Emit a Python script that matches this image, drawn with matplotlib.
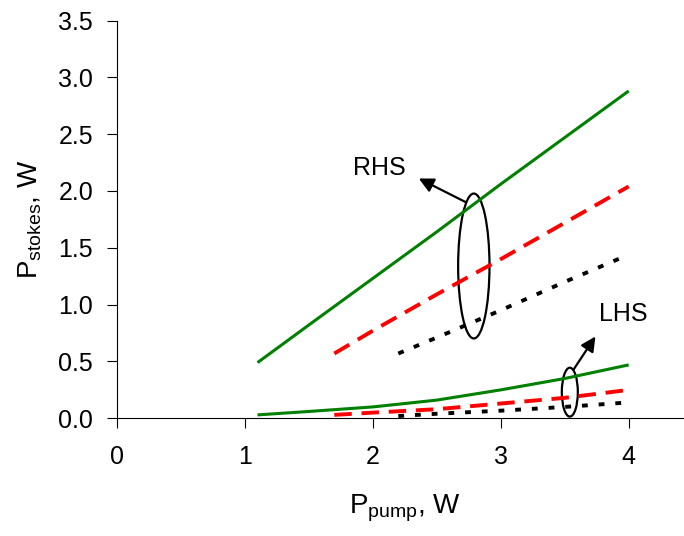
import matplotlib.pyplot as plt
from matplotlib.patches import Ellipse

plt.rcParams['font.family'] = ['Liberation Sans', 'DejaVu Sans']
plt.rcParams['mathtext.fontset'] = 'custom'
plt.rcParams['mathtext.rm'] = 'Liberation Sans'
plt.rcParams['mathtext.it'] = 'Liberation Sans'

# P_pump values (W) for each curve
x_green = [1.1, 1.5, 2.0, 2.5, 3.0, 3.5, 4.0]
x_red = [1.7, 2.0, 2.5, 3.0, 3.5, 4.0]
x_black = [2.2, 2.5, 3.0, 3.5, 4.0]

# RHS curves
rhs_green = [0.49, 0.82, 1.23, 1.64, 2.06, 2.47, 2.88]
rhs_red = [0.57, 0.77, 1.09, 1.40, 1.72, 2.04]
rhs_black = [0.57, 0.71, 0.95, 1.20, 1.44]

# LHS curves
lhs_green = [0.03, 0.06, 0.10, 0.16, 0.25, 0.35, 0.47]
lhs_red = [0.03, 0.05, 0.08, 0.13, 0.18, 0.25]
lhs_black = [0.02, 0.04, 0.067, 0.10, 0.14]

xticks = [0, 1, 2, 3, 4]
yticks = [0.0, 0.5, 1.0, 1.5, 2.0, 2.5, 3.0, 3.5]

fig = plt.figure(figsize=(6.84, 5.36), dpi=100)
ax = fig.add_axes([116.7 / 684, (536 - 418.3) / 536, 576 / 684, 397.8 / 536])

green = dict(color='#008000', lw=2.2, solid_capstyle='butt')
red = dict(color='#ff0000', lw=2.8, dashes=(4.5, 2.5))
black = dict(color='black', lw=2.8, dashes=(1.5, 2.8))

ax.plot(x_green, rhs_green, **green)
ax.plot(x_red, rhs_red, **red)
ax.plot(x_black, rhs_black, **black)
ax.plot(x_green, lhs_green, **green)
ax.plot(x_red, lhs_red, **red)
ax.plot(x_black, lhs_black, **black)

# annotation ellipses
ax.add_patch(Ellipse((2.79, 1.34), 0.245, 1.275, fill=False, lw=1.6, color='black'))
ax.add_patch(Ellipse((3.54, 0.23), 0.125, 0.43, fill=False, lw=1.6, color='black'))
ax.annotate('', xy=(2.36, 2.11), xytext=(2.73, 1.90),
            arrowprops=dict(arrowstyle='-|>', color='black', lw=1.6, mutation_scale=22,
                            shrinkA=0, shrinkB=0))
ax.annotate('', xy=(3.74, 0.72), xytext=(3.57, 0.43),
            arrowprops=dict(arrowstyle='-|>', color='black', lw=1.6, mutation_scale=22,
                            shrinkA=0, shrinkB=0))
ax.text(2.05, 2.20, 'RHS', fontsize=18, ha='center', va='center')
ax.text(3.96, 0.92, 'LHS', fontsize=18, ha='center', va='center')

ax.set_xlim(0, 4.5)
ax.set_ylim(0, 3.5)
ax.set_xticks(xticks)
ax.set_yticks(yticks)
ax.set_yticklabels(['%.1f' % v for v in yticks])
ax.spines['top'].set_visible(False)
ax.spines['right'].set_visible(False)
ax.tick_params(axis='both', direction='out', length=7, labelsize=18)
ax.tick_params(axis='x', pad=12)
ax.tick_params(axis='y', pad=10)

ax.set_xlabel(r'P$_{\mathrm{pump}}$, W', fontsize=20, labelpad=17)
ax.set_ylabel(r'P$_{\mathrm{stokes}}$, W', fontsize=20, labelpad=10)

fig.savefig('out.png', dpi=100)
